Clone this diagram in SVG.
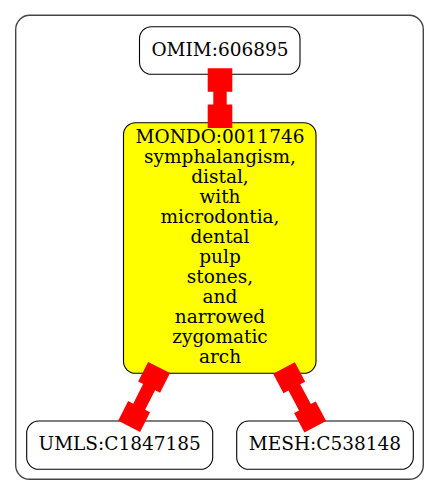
<svg xmlns="http://www.w3.org/2000/svg" width="440" height="496" viewBox="0 0 440 496">
<defs>
<style>
.cluster{fill:#ffffff;stroke:#444444;stroke-width:1.4}
.node rect{stroke:#000000;stroke-width:1.1}
.node text{font-family:"DejaVu Serif","Liberation Serif",serif;font-size:18.5px;fill:#000000;text-anchor:middle}
.edge{fill:#ff0000;stroke:none}
</style>
</defs>
<rect x="0" y="0" width="440" height="496" fill="#ffffff"/>
<rect class="cluster" x="15.7" y="15.3" width="407.6" height="464" rx="14" ry="14"/>
<g id="OMIM_606895" class="node">
<rect x="139.5" y="26.7" width="160.5" height="47.6" rx="12" ry="12" fill="#ffffff"/>
<text x="220" y="56">OMIM:606895</text>
</g>
<g id="MONDO_0011746" class="node">
<rect x="123.5" y="122.7" width="192.5" height="250.6" rx="12" ry="12" fill="#ffff00"/>
<text x="220" y="142.5">MONDO:0011746</text>
<text x="220" y="162.5">symphalangism,</text>
<text x="220" y="182.5">distal,</text>
<text x="220" y="202.5">with</text>
<text x="220" y="222.5">microdontia,</text>
<text x="220" y="242.5">dental</text>
<text x="220" y="262.5">pulp</text>
<text x="220" y="282.5">stones,</text>
<text x="220" y="302.5">and</text>
<text x="220" y="322.5">narrowed</text>
<text x="220" y="342.5">zygomatic</text>
<text x="220" y="362.5">arch</text>
</g>
<g id="UMLS_C1847185" class="node">
<rect x="26.7" y="421" width="186" height="48.3" rx="12" ry="12" fill="#ffffff"/>
<text x="119.7" y="450">UMLS:C1847185</text>
</g>
<g id="MESH_C538148" class="node">
<rect x="236.7" y="421" width="176.6" height="48.3" rx="12" ry="12" fill="#ffffff"/>
<text x="325" y="450">MESH:C538148</text>
</g>
<g id="edges">
<path class="edge" d="M-12.3,0 H12.3 V23.4 H6.7 V36.3 H12.3 V59.7 H-12.3 V36.3 H-6.7 V23.4 H-12.3 Z" transform="translate(220,68.3)"/>
<path class="edge" d="M-12.3,0 H12.3 V22 H6.7 V44 H12.3 V66 H-12.3 V44 H-6.7 V22 H-12.3 Z" transform="translate(159.1,367.5) rotate(27)"/>
<path class="edge" d="M-12.3,0 H12.3 V22 H6.7 V44.5 H12.3 V66.5 H-12.3 V44.5 H-6.7 V22 H-12.3 Z" transform="translate(284,368) rotate(-28.06)"/>
</g>
</svg>
